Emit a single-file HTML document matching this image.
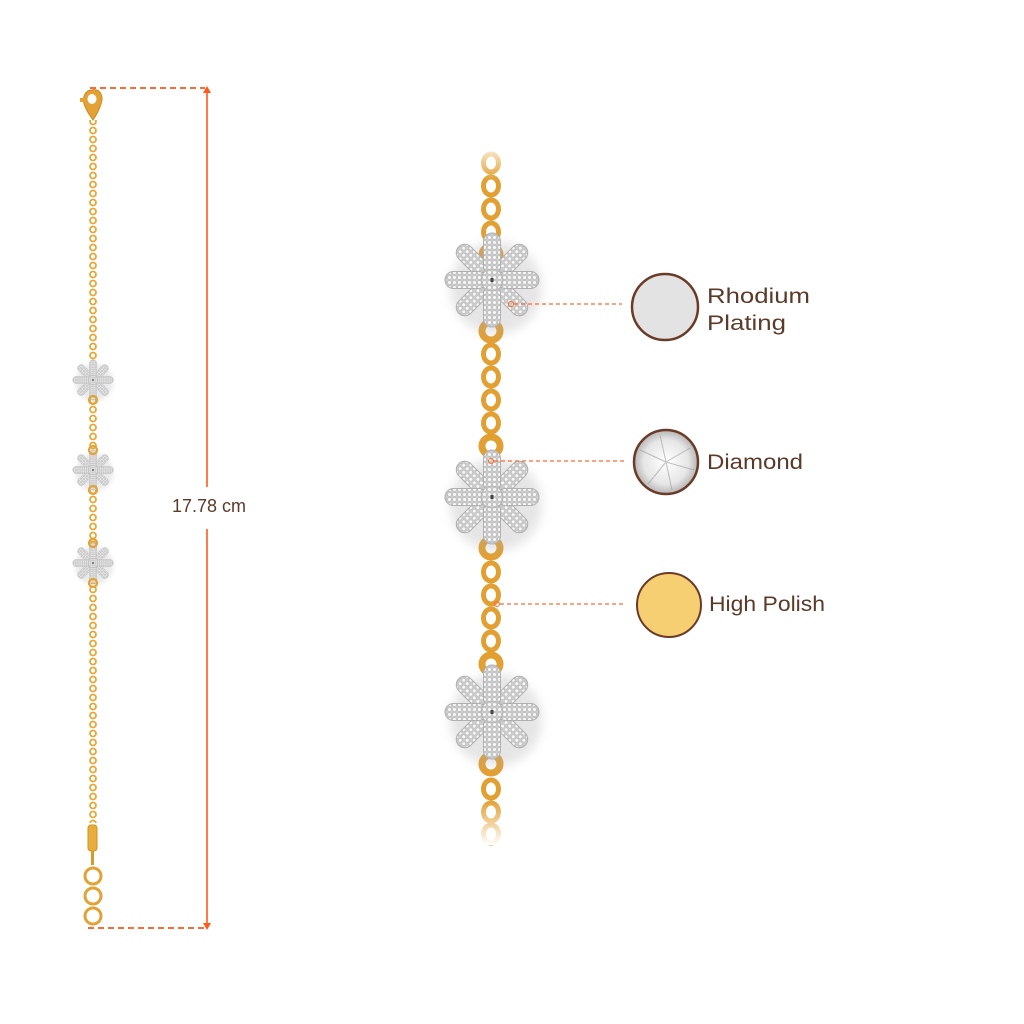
<!DOCTYPE html>
<html><head><meta charset="utf-8">
<style>
html,body{margin:0;padding:0;background:#fff;}
svg{display:block;}
</style></head>
<body>
<svg width="1024" height="1024" viewBox="0 0 1024 1024" xmlns="http://www.w3.org/2000/svg">
<defs>
  <pattern id="dots" width="5" height="5" patternUnits="userSpaceOnUse">
    <rect width="5" height="5" fill="#cdcdcd"/>
    <circle cx="2.5" cy="2.5" r="1.9" fill="#f8f8f8" stroke="#9a9a9a" stroke-width="0.35"/>
  </pattern>
  <filter id="blur" x="-50%" y="-50%" width="200%" height="200%"><feGaussianBlur stdDeviation="5"/></filter>
  <g id="petal"><rect x="-8.5" y="-47" width="17" height="42" rx="8.5" fill="url(#dots)" stroke="#b0b0b0" stroke-width="1"/></g>
  <g id="flower">
    <use href="#petal" transform="rotate(45)"/>
    <use href="#petal" transform="rotate(135)"/>
    <use href="#petal" transform="rotate(225)"/>
    <use href="#petal" transform="rotate(315)"/>
    <use href="#petal" transform="rotate(90)"/>
    <use href="#petal" transform="rotate(270)"/>
    <use href="#petal" transform="rotate(0)"/>
    <use href="#petal" transform="rotate(180)"/>
    <circle r="11" fill="url(#dots)" stroke="#b0b0b0" stroke-width="0.8"/>
    <rect x="-1.5" y="-2" width="3" height="4" fill="#444"/>
  </g>
  <pattern id="lchain" x="88" y="0" width="10" height="9" patternUnits="userSpaceOnUse">
    <circle cx="5" cy="4.5" r="3" fill="none" stroke="#e6a83a" stroke-width="1.8"/>
  </pattern>
  <radialGradient id="dia" cx="50%" cy="50%" r="50%">
    <stop offset="0" stop-color="#ffffff"/>
    <stop offset="0.7" stop-color="#e6e6e6"/>
    <stop offset="1" stop-color="#b5b5b5"/>
  </radialGradient>
  <linearGradient id="fadeTop" x1="0" y1="0" x2="0" y2="1">
    <stop offset="0" stop-color="#fff" stop-opacity="1"/>
    <stop offset="1" stop-color="#fff" stop-opacity="0"/>
  </linearGradient>
  <linearGradient id="fadeBot" x1="0" y1="0" x2="0" y2="1">
    <stop offset="0" stop-color="#fff" stop-opacity="0"/>
    <stop offset="1" stop-color="#fff" stop-opacity="1"/>
  </linearGradient>
</defs>

<!-- ===== LEFT: measurement ===== -->
<line x1="90" y1="88" x2="205" y2="88" stroke="#ff6a30" stroke-width="2" stroke-dasharray="6,4"/>
<line x1="88" y1="928" x2="205" y2="928" stroke="#ff6a30" stroke-width="2" stroke-dasharray="6,4"/>
<line x1="207" y1="90" x2="207" y2="487" stroke="#ff5a1a" stroke-width="1.6"/>
<line x1="207" y1="529" x2="207" y2="926" stroke="#ff5a1a" stroke-width="1.6"/>
<polygon points="203,93 211,93 207,86" fill="#ff5a1a"/>
<polygon points="203,923 211,923 207,930" fill="#ff5a1a"/>
<text x="172" y="512" font-family="Liberation Sans, sans-serif" font-size="18" fill="#5b3a29" textLength="74" lengthAdjust="spacingAndGlyphs">17.78 cm</text>

<!-- left chain -->
<rect x="88" y="120" width="10" height="243" fill="url(#lchain)"/>
<rect x="88" y="398" width="10" height="52" fill="url(#lchain)"/>
<rect x="88" y="490" width="10" height="54" fill="url(#lchain)"/>
<rect x="88" y="583" width="10" height="240" fill="url(#lchain)"/>
<!-- clasp -->
<path d="M92,90 C100,88 104,96 101,104 C99,110 96,116 93,120 C90,116 86,110 84,104 C82,96 86,90 92,90 Z" fill="#e2a235" stroke="#c98a20" stroke-width="1"/>
<ellipse cx="92" cy="99" rx="4.5" ry="5" fill="#fff"/>
<rect x="80" y="98" width="6" height="4" fill="#e2a235"/>
<!-- small flowers -->
<g transform="translate(93,380) scale(0.43)"><ellipse cx="3" cy="6" rx="44" ry="44" fill="#bbb" opacity="0.3" filter="url(#blur)"/><use href="#flower"/></g>
<g transform="translate(93,470) scale(0.43)"><ellipse cx="3" cy="6" rx="44" ry="44" fill="#bbb" opacity="0.3" filter="url(#blur)"/><use href="#flower"/></g>
<g transform="translate(93,563) scale(0.43)"><ellipse cx="3" cy="6" rx="44" ry="44" fill="#bbb" opacity="0.3" filter="url(#blur)"/><use href="#flower"/></g>
<circle cx="93" cy="400" r="4" fill="none" stroke="#e3a436" stroke-width="2.2"/>
<circle cx="93" cy="450" r="4" fill="none" stroke="#e3a436" stroke-width="2.2"/>
<circle cx="93" cy="490" r="4" fill="none" stroke="#e3a436" stroke-width="2.2"/>
<circle cx="93" cy="543" r="4" fill="none" stroke="#e3a436" stroke-width="2.2"/>
<circle cx="93" cy="583" r="4" fill="none" stroke="#e3a436" stroke-width="2.2"/>
<!-- bar + rings -->
<rect x="88" y="825" width="9" height="26" rx="3" fill="#e9ad3e" stroke="#cf9226" stroke-width="1"/>
<rect x="91" y="851" width="3" height="14" fill="#d99a2c"/>
<circle cx="93" cy="876" r="8" fill="none" stroke="#e2a235" stroke-width="3"/>
<circle cx="93" cy="896" r="8" fill="none" stroke="#e2a235" stroke-width="3"/>
<circle cx="93" cy="916" r="8" fill="none" stroke="#e2a235" stroke-width="3"/>

<!-- ===== RIGHT: large chain ===== -->
<g fill="none" stroke="#e2a033" stroke-width="5">
  <ellipse cx="491" cy="163" rx="7.5" ry="9"/>
  <ellipse cx="491" cy="186" rx="7.5" ry="9"/>
  <ellipse cx="491" cy="209" rx="7.5" ry="9"/>
  <ellipse cx="491" cy="232" rx="7.5" ry="9"/>
  <ellipse cx="491" cy="354" rx="7.5" ry="9"/>
  <ellipse cx="491" cy="377" rx="7.5" ry="9"/>
  <ellipse cx="491" cy="400" rx="7.5" ry="9"/>
  <ellipse cx="491" cy="423" rx="7.5" ry="9"/>
  <ellipse cx="491" cy="572" rx="7.5" ry="9"/>
  <ellipse cx="491" cy="595" rx="7.5" ry="9"/>
  <ellipse cx="491" cy="618" rx="7.5" ry="9"/>
  <ellipse cx="491" cy="641" rx="7.5" ry="9"/>
  <ellipse cx="491" cy="789" rx="7.5" ry="9"/>
  <ellipse cx="491" cy="812" rx="7.5" ry="9"/>
  <ellipse cx="491" cy="834" rx="7.5" ry="9"/>
</g>
<g fill="none" stroke="#e2a033" stroke-width="7">
  <circle cx="491" cy="255" r="9"/>
  <circle cx="491" cy="331" r="9"/>
  <circle cx="491" cy="446" r="9"/>
  <circle cx="491" cy="548" r="9"/>
  <circle cx="491" cy="664" r="9"/>
  <circle cx="491" cy="764" r="9"/>
</g>
<!-- big flowers -->
<g transform="translate(492,280)"><ellipse cx="4" cy="8" rx="46" ry="46" fill="#aaa" opacity="0.3" filter="url(#blur)"/><use href="#flower"/></g>
<g transform="translate(492,497)"><ellipse cx="4" cy="8" rx="46" ry="46" fill="#aaa" opacity="0.3" filter="url(#blur)"/><use href="#flower"/></g>
<g transform="translate(492,712)"><ellipse cx="4" cy="8" rx="46" ry="46" fill="#aaa" opacity="0.3" filter="url(#blur)"/><use href="#flower"/></g>
<!-- fades -->
<rect x="470" y="140" width="44" height="40" fill="url(#fadeTop)"/>
<rect x="470" y="800" width="44" height="45" fill="url(#fadeBot)"/>

<!-- connectors -->
<line x1="514" y1="304" x2="622" y2="304" stroke="#ff6a30" stroke-width="1.3" stroke-dasharray="4,3"/>
<circle cx="511" cy="304" r="2.5" fill="none" stroke="#ff6a30" stroke-width="1"/>
<line x1="494" y1="461" x2="624" y2="461" stroke="#ff6a30" stroke-width="1.3" stroke-dasharray="4,3"/>
<circle cx="491" cy="461" r="2.5" fill="none" stroke="#ff6a30" stroke-width="1"/>
<line x1="500" y1="604" x2="623" y2="604" stroke="#ff6a30" stroke-width="1.3" stroke-dasharray="4,3"/>
<circle cx="497" cy="604" r="2.5" fill="none" stroke="#ff6a30" stroke-width="1"/>

<!-- swatches -->
<circle cx="665" cy="307" r="33" fill="#e3e3e3" stroke="#6b3b28" stroke-width="2.5"/>
<circle cx="666" cy="462" r="32" fill="url(#dia)" stroke="#6b3b28" stroke-width="2.5"/>
<g stroke="#9a9a9a" stroke-width="1" opacity="0.6">
  <line x1="666" y1="462" x2="640" y2="450"/>
  <line x1="666" y1="462" x2="690" y2="448"/>
  <line x1="666" y1="462" x2="672" y2="490"/>
  <line x1="666" y1="462" x2="648" y2="484"/>
  <line x1="666" y1="462" x2="660" y2="435"/>
  <line x1="666" y1="462" x2="694" y2="470"/>
</g>
<circle cx="669" cy="605" r="32" fill="#f7cf73" stroke="#6b3b28" stroke-width="2"/>

<!-- labels -->
<g font-family="Liberation Sans, sans-serif" font-size="21" fill="#5b3a29">
  <text x="707" y="303" textLength="103" lengthAdjust="spacingAndGlyphs">Rhodium</text>
  <text x="707" y="330" textLength="79" lengthAdjust="spacingAndGlyphs">Plating</text>
  <text x="707" y="469" textLength="96" lengthAdjust="spacingAndGlyphs">Diamond</text>
  <text x="709" y="611" textLength="116" lengthAdjust="spacingAndGlyphs">High Polish</text>
</g>
</svg>
</body></html>
